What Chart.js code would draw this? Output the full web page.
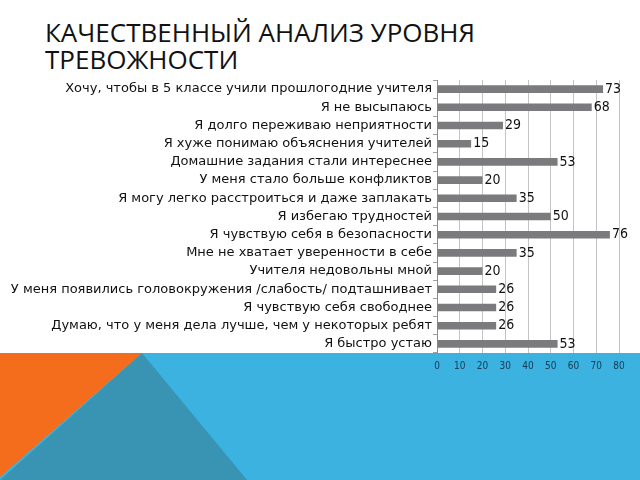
<!DOCTYPE html>
<html>
<head>
<meta charset="utf-8">
<script src="https://cdn.jsdelivr.net/npm/chart.js@4"></script>
<style>
  html, body { margin:0; padding:0; background:#fff; }
  #wrap { position:relative; width:640px; height:480px; overflow:hidden; }
  .deco { position:absolute; left:0; top:353px; width:640px; height:127px; }
  #blue { background:#3bb2df; }
  #teal { background:#3994b3; clip-path:polygon(142px 0, 247px 127px, 0 127px); }
  #orange { background:#f46d1d; clip-path:polygon(0 0, 142px 0, 0 124px); }
  #title { position:absolute; left:45px; top:19px; font-family:"Open Sans", sans-serif; font-size:26px; line-height:27px; color:#111; }
  canvas { position:absolute; left:0; top:0; }
</style>
</head>
<body>
<div id="wrap">
  <div class="deco" id="blue"></div>
  <div class="deco" id="teal"></div>
  <div class="deco" id="orange"></div>
  <div id="title">КАЧЕСТВЕННЫЙ АНАЛИЗ УРОВНЯ<br>ТРЕВОЖНОСТИ</div>
  <canvas id="chart" width="640" height="480"></canvas>
</div>
<script>
// ---------- Data ----------
const categories = [
  'Хочу, чтобы в 5 классе учили прошлогодние учителя',
  'Я не высыпаюсь',
  'Я долго переживаю неприятности',
  'Я хуже понимаю объяснения учителей',
  'Домашние задания стали интереснее',
  'У меня стало больше конфликтов',
  'Я могу легко расстроиться и даже заплакать',
  'Я избегаю трудностей',
  'Я чувствую себя в безопасности',
  'Мне не хватает уверенности в себе',
  'Учителя недовольны мной',
  'У меня появились головокружения /слабость/ подташнивает',
  'Я чувствую себя свободнее',
  'Думаю, что у меня дела лучше, чем у некоторых ребят',
  'Я быстро устаю'
];
const values = [73, 68, 29, 15, 53, 20, 35, 50, 76, 35, 20, 26, 26, 26, 53];
const xTicks = [0, 10, 20, 30, 40, 50, 60, 70, 80];

// value labels at the end of each bar
const valueLabels = {
  id: 'valueLabels',
  afterDatasetsDraw(chart) {
    const ctx = chart.ctx;
    const meta = chart.getDatasetMeta(0);
    ctx.save();
    ctx.font = '14px "DejaVu Sans Condensed", "DejaVu Sans", sans-serif';
    ctx.fillStyle = '#111';
    ctx.textBaseline = 'middle';
    ctx.textAlign = 'left';
    meta.data.forEach((bar, i) => {
      ctx.fillText(String(values[i]), bar.x + 2, bar.y);
    });
    ctx.restore();
  }
};

const chart = new Chart(document.getElementById('chart'), {
  type: 'bar',
  data: {
    labels: categories,
    datasets: [{
      data: values,
      backgroundColor: '#7b7b7d',
      barPercentage: 0.42,
      categoryPercentage: 1
    }]
  },
  options: {
    indexAxis: 'y',
    responsive: false,
    animation: false,
    layout: { padding: { left: 0, right: 21, top: 80, bottom: 102 } },
    plugins: { legend: { display: false }, tooltip: { enabled: false } },
    scales: {
      x: {
        min: 0, max: 80,
        afterBuildTicks(scale) { scale.ticks = xTicks.map(v => ({ value: v })); },
        afterFit(scale) { scale.height = 25; },
        grid: { color: '#c4c4c4', drawTicks: false },
        border: { display: false },
        ticks: {
          padding: 7,
          color: '#163a52',
          font: { family: '"DejaVu Sans Condensed", "DejaVu Sans", sans-serif', size: 10 }
        }
      },
      y: {
        afterFit(scale) { scale.width = 437; },
        grid: { drawOnChartArea: false, drawTicks: true, tickLength: 4, color: '#a0a0a0' },
        border: { display: true, color: '#8c8c8c' },
        ticks: {
          autoSkip: false,
          padding: 1,
          color: '#111',
          font: { family: '"DejaVu Sans", sans-serif', size: 13 }
        }
      }
    }
  },
  plugins: [valueLabels]
});
</script>
</body>
</html>
